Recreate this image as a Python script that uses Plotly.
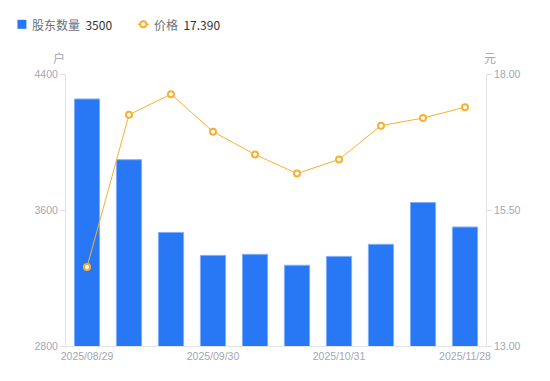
import plotly.graph_objects as go

categories = ["2025/08/29", "2025/09/10", "2025/09/19", "2025/09/30", "2025/10/10",
              "2025/10/20", "2025/10/31", "2025/11/10", "2025/11/20", "2025/11/28"]
holders = [4253, 3896, 3468, 3333, 3339, 3275, 3327, 3398, 3644, 3500]
prices = [14.45, 17.25, 17.63, 16.94, 16.52, 16.17, 16.43, 17.05, 17.19, 17.39]
tick_labels = ["2025/08/29", "2025/09/30", "2025/10/31", "2025/11/28"]
left_ticks = [2800, 3600, 4400]
right_ticks = [13.00, 15.50, 18.00]

BLUE = "#2878F6"
ORANGE = "#F8B032"
TICK = "#A3A6B4"

fig = go.Figure()
fig.add_trace(go.Bar(
    x=categories, y=holders, name="股东数量",
    marker=dict(color=BLUE, line=dict(color="#80AEFA", width=1)),
    width=0.6, yaxis="y", showlegend=False,
))
fig.add_trace(go.Scatter(
    x=categories, y=prices, name="价格", mode="lines+markers",
    line=dict(color=ORANGE, width=1),
    marker=dict(symbol="circle", size=6, color="white", line=dict(color=ORANGE, width=2)),
    yaxis="y2", showlegend=False,
))

L, R, T, B = 65.6, 64, 73.7, 35.3
W = 550 - L - R
H = 381 - T - B

def px(x):
    return (x - L) / W

def py(y):
    return 1 - (y - T) / H

fig.update_layout(
    width=550, height=381,
    margin=dict(l=L, r=R, t=T, b=B, autoexpand=False),
    plot_bgcolor="white", paper_bgcolor="white",
    font=dict(family="Liberation Sans, Arial, sans-serif", size=10, color=TICK),
    xaxis=dict(
        type="category", tickmode="array", tickvals=tick_labels, ticktext=tick_labels,
        range=[-0.5, len(categories) - 0.5],
        showgrid=False, showline=True, linecolor="#E3E4E8", linewidth=1,
        ticks="", tickfont=dict(size=10.5, color=TICK), zeroline=False,
    ),
    yaxis=dict(
        range=[2800, 4400], tickvals=left_ticks, showgrid=False, zeroline=False,
        showline=True, linecolor="#E3E4E8", linewidth=1,
        ticks="outside", ticklen=5, tickcolor="#E3E4E8",
        tickfont=dict(size=10.5, color=TICK),
    ),
    yaxis2=dict(
        range=[13, 18], tickvals=right_ticks, tickformat=".2f", overlaying="y", side="right",
        showgrid=False, zeroline=False, showline=True, linecolor="#E3E4E8", linewidth=1,
        ticks="outside", ticklen=5, tickcolor="#E3E4E8",
        tickfont=dict(size=10.5, color=TICK),
    ),
    bargap=0.4,
    showlegend=False,
)

# manual legend
fig.add_shape(type="rect", xref="paper", yref="paper",
              x0=px(17), x1=px(26), y0=py(28.5), y1=py(19.5),
              fillcolor=BLUE, line=dict(width=0))
fig.add_shape(type="line", xref="paper", yref="paper",
              x0=px(137.5), x1=px(148.5), y0=py(24), y1=py(24),
              line=dict(color=ORANGE, width=1.5))
fig.add_shape(type="circle", xref="paper", yref="paper",
              x0=px(140), x1=px(146), y0=py(27), y1=py(21),
              fillcolor="white", line=dict(color=ORANGE, width=2))

fig.add_annotation(xref="paper", yref="paper", x=px(30), y=py(24), xanchor="left", yanchor="middle",
                   text="<span style='color:#6B6E7A'>股东数量</span>  <span style='color:#333333'>3500</span>",
                   showarrow=False, font=dict(size=12, family="Noto Sans CJK SC, sans-serif"))
fig.add_annotation(xref="paper", yref="paper", x=px(152), y=py(24), xanchor="left", yanchor="middle",
                   text="<span style='color:#6B6E7A'>价格</span>  <span style='color:#333333'>17.390</span>",
                   showarrow=False, font=dict(size=12, family="Noto Sans CJK SC, sans-serif"))

# axis units
fig.add_annotation(xref="paper", yref="paper", x=px(59), y=py(57), xanchor="center", yanchor="middle",
                   text="户", showarrow=False, font=dict(size=12, color=TICK, family="Noto Sans CJK SC, sans-serif"))
fig.add_annotation(xref="paper", yref="paper", x=px(490), y=py(57), xanchor="center", yanchor="middle",
                   text="元", showarrow=False, font=dict(size=12, color=TICK, family="Noto Sans CJK SC, sans-serif"))

fig.write_html("out.html", config={"displayModeBar": False},
               post_script="document.body.style.margin='0';document.body.style.overflow='hidden';")
